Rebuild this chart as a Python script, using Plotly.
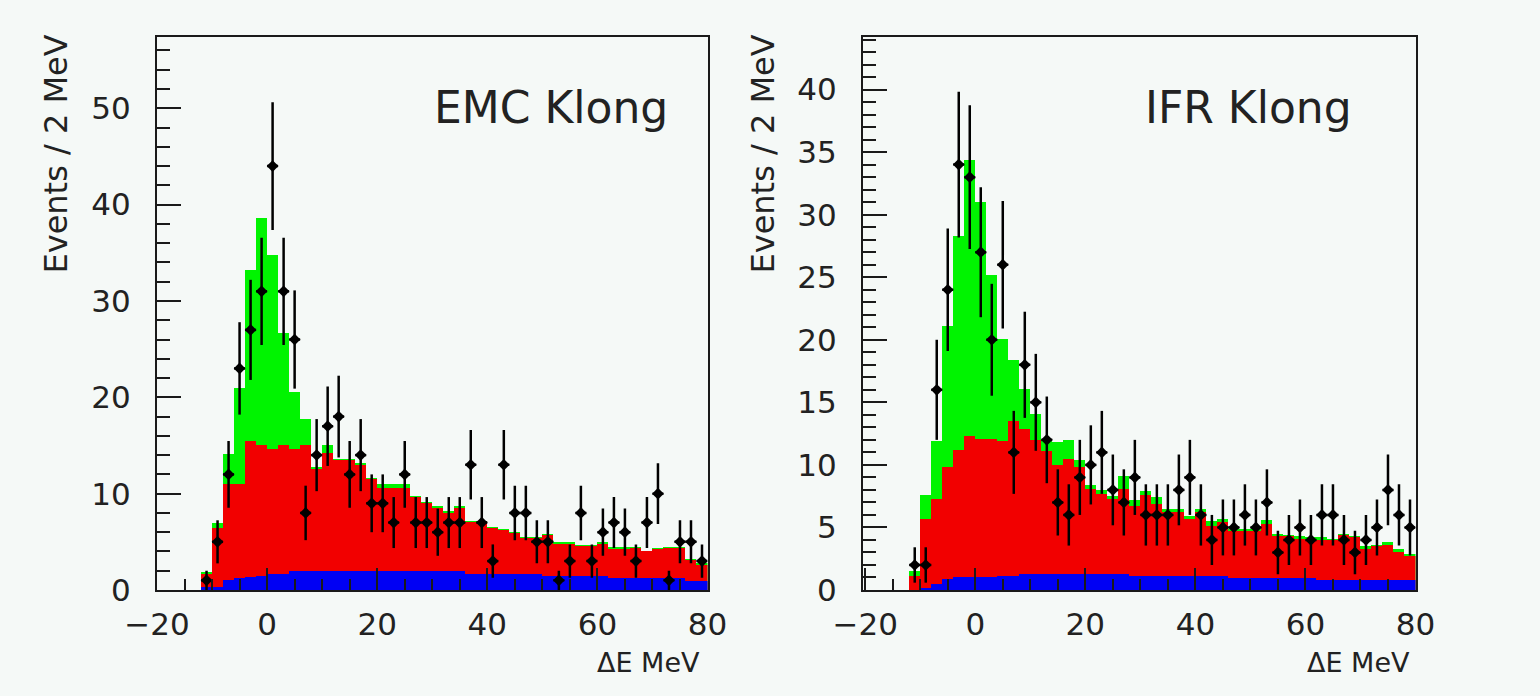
import numpy as np
import plotly.graph_objects as go

# 2 MeV bins, lower edges from -12 to 78 MeV
bin_lo = np.arange(-12, 80, 2)
bin_centers = bin_lo + 1

# ---- EMC Klong: cumulative stacked MC (blue, +red, +green) and data counts
emc_blue = [0.3, 0.35, 1.0, 1.2, 1.4, 1.45, 1.7, 1.7,
            1.95, 1.95, 1.95, 1.95, 1.95, 1.95, 1.95, 1.95,
            1.95, 1.95, 1.95, 1.95, 1.95, 1.95, 1.95, 1.95,
            1.7, 1.7, 1.7, 1.7, 1.7, 1.7, 1.7,
            1.45, 1.45, 1.45, 1.45, 1.45, 1.45,
            1.2, 1.2, 1.2, 1.2, 1.2, 1.2, 1.2,
            0.97, 0.97]
emc_red = [1.7, 6.4, 11.0, 11.0, 15.5, 15.0, 14.6, 15.0, 14.6, 15.0,
           12.6, 14.2, 13.5, 13.5, 13.0, 11.5, 10.6, 10.6, 10.6, 9.7,
           9.0, 8.5, 8.0, 8.5, 7.1, 7.1, 6.4, 6.2, 5.9, 5.4,
           5.4, 5.7, 4.8, 4.8, 4.6, 4.6, 4.8, 4.3, 4.3, 4.4,
           4.0, 4.3, 4.4, 4.4, 3.1, 2.6]
emc_green = [1.9, 7.0, 14.1, 21.0, 33.2, 38.6, 34.8, 26.7, 20.6, 17.8,
             12.8, 15.0, 13.6, 13.6, 13.2, 11.6, 11.0, 11.0, 11.0, 9.8,
             9.1, 8.7, 8.2, 8.7, 7.2, 7.2, 6.5, 6.3, 6.0, 5.5,
             5.5, 5.8, 5.0, 5.0, 4.7, 4.7, 5.0, 4.5, 4.5, 4.5,
             4.1, 4.4, 4.5, 4.5, 3.2, 2.8]
emc_data = [1, 5, 12, 23, 27, 31, 44, 31, 26, 8,
            14, 17, 18, 12, 14, 9, 9, 7, 12, 7,
            7, 6, 7, 7, 13, 7, 3, 13, 8, 8,
            5, 5, 1, 3, 8, 3, 6, 7, 6, 3,
            7, 10, 1, 5, 5, 3]

# ---- IFR Klong
ifr_blue = [0.0, 0.2, 0.5, 0.85, 1.0, 1.0, 1.0, 1.0, 1.1, 1.1,
            1.3, 1.3, 1.3, 1.3, 1.3, 1.3, 1.3, 1.3, 1.3, 1.3,
            1.1, 1.1, 1.1, 1.1, 1.1, 1.1, 1.1, 1.1, 1.1,
            0.93, 0.93, 0.93, 0.93, 0.93, 0.93, 0.93, 0.93,
            0.8, 0.8, 0.8, 0.8, 0.8, 0.8, 0.8, 0.8, 0.8]
ifr_red = [1.1, 5.7, 7.3, 9.8, 11.2, 12.3, 12.1, 12.1, 11.9, 13.5,
           12.9, 12.0, 11.1, 10.0, 10.5, 9.8, 8.1, 7.7, 7.3, 8.1,
           6.7, 7.6, 6.9, 6.2, 6.2, 5.7, 6.2, 5.1, 5.4, 4.7,
           4.7, 4.7, 5.3, 4.3, 4.3, 4.1, 4.0, 4.0, 4.0, 4.4,
           4.2, 3.3, 3.5, 3.6, 3.0, 2.7]
ifr_green = [1.5, 7.6, 11.9, 21.1, 28.3, 34.4, 31.0, 25.2, 20.1, 18.4,
             16.1, 14.1, 12.0, 11.8, 12.0, 10.4, 8.4, 8.0, 7.5, 9.1,
             7.2, 7.9, 7.4, 6.5, 6.5, 5.9, 6.5, 5.5, 5.7, 4.9,
             4.9, 4.9, 5.6, 4.5, 4.4, 4.3, 4.2, 4.2, 4.1, 4.5,
             4.3, 3.5, 3.6, 3.8, 3.3, 2.9]
ifr_data = [2, 2, 16, 24, 34, 33, 27, 20, 26, 11,
            18, 15, 12, 7, 6, 9, 10, 11, 8, 7,
            9, 6, 6, 6, 8, 9, 6, 4, 5, 5,
            6, 5, 7, 3, 4, 5, 4, 6, 6, 4,
            3, 4, 5, 8, 6, 5]

BG = "#f5f9f7"
INK = "#1a1a1a"
TXT = "#222222"
FONT = "DejaVu Sans"
W, H = 1540, 696


def px_x(p):
    return p / W


def px_y(p):
    return 1 - p / H


fig = go.Figure()


def add_panel(xa, ya, blue, red, green, data):
    # stacked histogram drawn as overlaid cumulative bars
    for vals, col in ((green, "#00f400"), (red, "#f20000"), (blue, "#0000f4")):
        fig.add_trace(go.Bar(
            x=bin_centers, y=vals, width=2.0, marker_color=col,
            marker_line_width=0, xaxis=xa, yaxis=ya, showlegend=False,
        ))
    counts = np.array(data, dtype=float)
    fig.add_trace(go.Scatter(
        x=bin_centers, y=counts, mode="markers",
        marker=dict(color="black", size=9, symbol="diamond"),
        error_y=dict(type="data", array=np.sqrt(counts), color="black",
                     thickness=2.5, width=0),
        error_x=dict(type="constant", value=1.0, color="black",
                     thickness=2.5, width=0),
        xaxis=xa, yaxis=ya, showlegend=False,
    ))


add_panel("x", "y", emc_blue, emc_red, emc_green, emc_data)
add_panel("x2", "y2", ifr_blue, ifr_red, ifr_green, ifr_data)

tickfont = dict(family=FONT, size=31, color=TXT)


def xaxis_cfg(dom, rng, anchor):
    return dict(
        domain=dom, range=rng, anchor=anchor, automargin=False,
        tickvals=[-20, 0, 20, 40, 60, 80],
        ticks="inside", ticklen=22, tickwidth=2, tickcolor=INK,
        minor=dict(ticks="inside", dtick=5, tick0=0, ticklen=11,
                   tickwidth=2, tickcolor=INK, showgrid=False),
        showline=True, mirror=True, linewidth=2, linecolor=INK,
        showgrid=False, zeroline=False, tickfont=tickfont,
        ticklabelstandoff=6,
    )


def yaxis_cfg(rng, dtick, minor_dtick, anchor):
    return dict(
        domain=[px_y(590), px_y(37)], range=rng, anchor=anchor,
        automargin=False, dtick=dtick, tick0=0,
        ticks="inside", ticklen=24, tickwidth=2, tickcolor=INK,
        minor=dict(ticks="inside", dtick=minor_dtick, tick0=0, ticklen=13,
                   tickwidth=2, tickcolor=INK, showgrid=False),
        showline=True, mirror=True, linewidth=2, linecolor=INK,
        showgrid=False, zeroline=False, tickfont=tickfont,
        ticklabelstandoff=18,
    )


fig.update_layout(
    width=W, height=H,
    margin=dict(l=0, r=0, t=0, b=0),
    paper_bgcolor=BG, plot_bgcolor=BG,
    barmode="overlay", bargap=0,
    xaxis=xaxis_cfg([px_x(157), px_x(707.5)], [-20, 80], "y"),
    xaxis2=xaxis_cfg([px_x(863), px_x(1415.5)], [-20.4, 80], "y2"),
    yaxis=yaxis_cfg([0, 57.4], 10, 2, "x"),
    yaxis2=yaxis_cfg([0, 44.2], 5, 1, "x2"),
)

label_font = dict(family=FONT, size=44, color=TXT)
ytitle_font = dict(family=FONT, size=32, color=TXT)
xtitle_font = dict(family=FONT, size=27, color=TXT)

annotations = [
    dict(text="EMC Klong", x=px_x(432), y=px_y(107), xanchor="left",
         yanchor="middle", font=label_font),
    dict(text="IFR Klong", x=px_x(1143), y=px_y(107), xanchor="left",
         yanchor="middle", font=label_font),
    dict(text="Events / 2 MeV", x=px_x(55), y=px_y(33), xanchor="center",
         yanchor="top", textangle=-90, font=ytitle_font),
    dict(text="Events / 2 MeV", x=px_x(762), y=px_y(33), xanchor="center",
         yanchor="top", textangle=-90, font=ytitle_font),
    dict(text="ΔE MeV", x=px_x(702), y=px_y(662), xanchor="right",
         yanchor="middle", font=xtitle_font),
    dict(text="ΔE MeV", x=px_x(1412), y=px_y(662), xanchor="right",
         yanchor="middle", font=xtitle_font),
]
for a in annotations:
    a.update(xref="paper", yref="paper", showarrow=False)
fig.update_layout(annotations=annotations)

fig.write_html("out.html")
